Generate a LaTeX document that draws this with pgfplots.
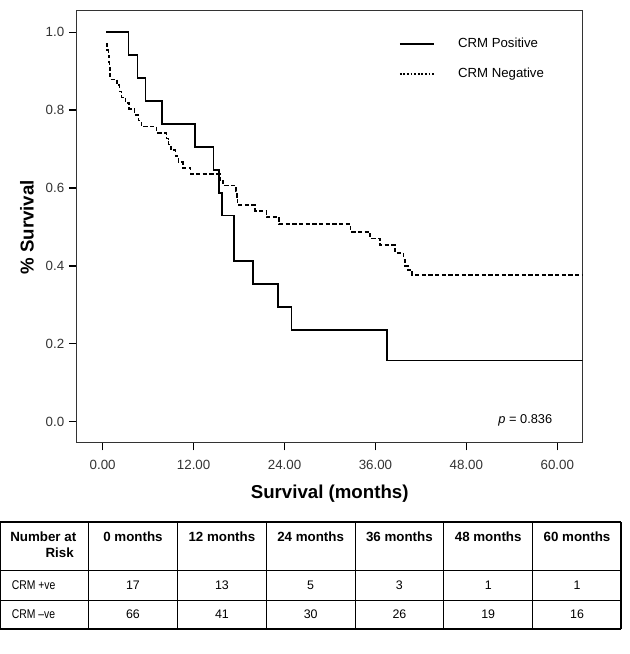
\documentclass[border=0pt]{standalone}
\usepackage{pgfplots}
\pgfplotsset{compat=1.18}
\usepackage{fontspec}
\setmainfont{Liberation Sans}
\newfontfamily\narrow[FakeStretch=0.82]{Liberation Sans}
\newcommand\tfont{\narrow\fontsize{9.5}{10}\selectfont}
\newcommand\nfont{\fontsize{9.3}{10}\selectfont}
\newcommand\hfont{\bfseries\fontsize{10}{11}\selectfont}
\begin{document}
\begin{tikzpicture}
\path[use as bounding box] (0,0) rectangle (471.75pt,-490.5pt);
\begin{axis}[
  at={(57.525pt,-332pt)}, anchor=south west,
  scale only axis, width=379.5pt, height=324pt,
  xmin=-3.43, xmax=63.35, ymin=-0.054, ymax=1.0555,
  xtick={0,12,24,36,48,60}, ytick={0,0.2,0.4,0.6,0.8,1.0},
  tick align=outside, xtick pos=bottom, ytick pos=left, major tick length=5.8pt,
  every tick/.style={draw=black, line width=1.1pt},
  xtick style={draw=black, line width=1.1pt},
  ytick style={draw=black, line width=1pt},
  axis line style={line width=0.8pt, black!80},
  /pgf/number format/assume math mode=true,
  xticklabel style={/pgf/number format/fixed, /pgf/number format/fixed zerofill, /pgf/number format/precision=2, yshift=-3.5pt},
  yticklabel style={/pgf/number format/fixed, /pgf/number format/fixed zerofill, /pgf/number format/precision=1},
  tick label style={font=\fontsize{10}{12}\selectfont, text=black!80},
  xlabel={\textbf{Survival (months)}},
  ylabel={\textbf{\% Survival}},
  label style={font=\fontsize{14}{16}\selectfont},
  xlabel style={at={(axis description cs:0.5,-0.117)}, anchor=center},
  ylabel style={at={(axis description cs:-0.0982,0.4985)}, anchor=center},
  legend style={at={(axis description cs:0.636,0.943)}, anchor=north west, draw=none, fill=none,
    font=\fontsize{9.9}{11}\selectfont, row sep=9.9pt, inner sep=0pt},
  legend cell align=left,
  legend image code/.code={\draw[#1] (0pt,0pt) -- (26pt,0pt);},
]
\addlegendimage{line width=1.5pt, black}
\addlegendimage{line width=1.5pt, black, dash pattern=on 1.3pt off 1.4pt}
\addlegendentry{\hspace{15pt}CRM Positive}
\addlegendentry{\hspace{15pt}CRM Negative}

\addplot[const plot, line width=1.2pt, black, forget plot] coordinates {
(0.44,1.0) (3.43,0.941) (4.62,0.882) (5.67,0.824) (7.79,0.765) (12.22,0.706)
(14.65,0.647) (15.35,0.588) (15.75,0.529) (17.33,0.412) (19.8,0.353)
(23.14,0.294) (24.94,0.235) (37.56,0.157) (63.35,0.157)};

\addplot[const plot, line width=1.2pt, black, dash pattern=on 3.2pt off 1.8pt, forget plot] coordinates {
(0.44,0.970) (0.6,0.955) (0.75,0.939) (0.85,0.924) (0.9,0.909) (0.96,0.894)
(1.0,0.879) (1.9,0.864) (2.2,0.848) (2.5,0.833) (3.0,0.818) (3.5,0.803)
(4.2,0.788) (4.7,0.773) (5.1,0.758) (7.1,0.742) (8.4,0.727) (8.7,0.712)
(9.0,0.697) (9.6,0.682) (10.0,0.667) (10.6,0.652) (11.6,0.636) (15.5,0.621)
(15.9,0.606) (17.6,0.591) (17.7,0.576) (17.8,0.556) (20.1,0.541) (21.6,0.525)
(23.3,0.507) (32.7,0.487) (35.3,0.470) (36.6,0.453) (38.6,0.433) (39.7,0.416)
(39.9,0.400) (40.3,0.389) (40.8,0.377) (63.35,0.377)};

\node[anchor=base west, inner sep=0pt, font=\fontsize{9.6}{12}\selectfont] at (axis cs:52.2,-0.004) {\textit{p} = 0.836};
\end{axis}

\begin{scope}[x=0.75pt,y=-0.75pt]
  \draw[line width=1.6pt] (0,522.3) -- (621.3,522.3);
  \draw[line width=1.6pt] (0,629.3) -- (621.3,629.3);
  \draw[line width=0.7pt] (0,570) -- (621.3,570);
  \draw[line width=0.7pt] (0,600.3) -- (621.3,600.3);
  \draw[line width=0.9pt] (0.5,522.3) -- (0.5,629.3);
  \draw[line width=1.4pt] (621.3,522.3) -- (621.3,629.3);
  \foreach \xx in {88.5,177.5,266.3,355,443.8,532.6}
    \draw[line width=0.7pt] (\xx,522.3) -- (\xx,629.3);
  \node[anchor=east, inner sep=0pt, font=\hfont] at (76.5,536.7) {Number at};
  \node[anchor=east, inner sep=0pt, font=\hfont] at (74,552.3) {Risk};
  \foreach \cx/\t in {133/0 months, 221.9/12 months, 310.65/24 months, 399.4/36 months, 488.2/48 months, 577/60 months}
    \node[inner sep=0pt, font=\hfont] at (\cx,536.7) {\t};
  \node[anchor=west, inner sep=0pt, font=\tfont] at (11.5,585) {CRM +ve};
  \node[anchor=west, inner sep=0pt, font=\tfont] at (11.5,614) {CRM –ve};
  \foreach \cx/\a/\b in {133/17/66, 221.9/13/41, 310.65/5/30, 399.4/3/26, 488.2/1/19, 577/1/16} {
    \node[inner sep=0pt, font=\nfont] at (\cx,585) {\a};
    \node[inner sep=0pt, font=\nfont] at (\cx,614) {\b};
  }
\end{scope}
\end{tikzpicture}
\end{document}
